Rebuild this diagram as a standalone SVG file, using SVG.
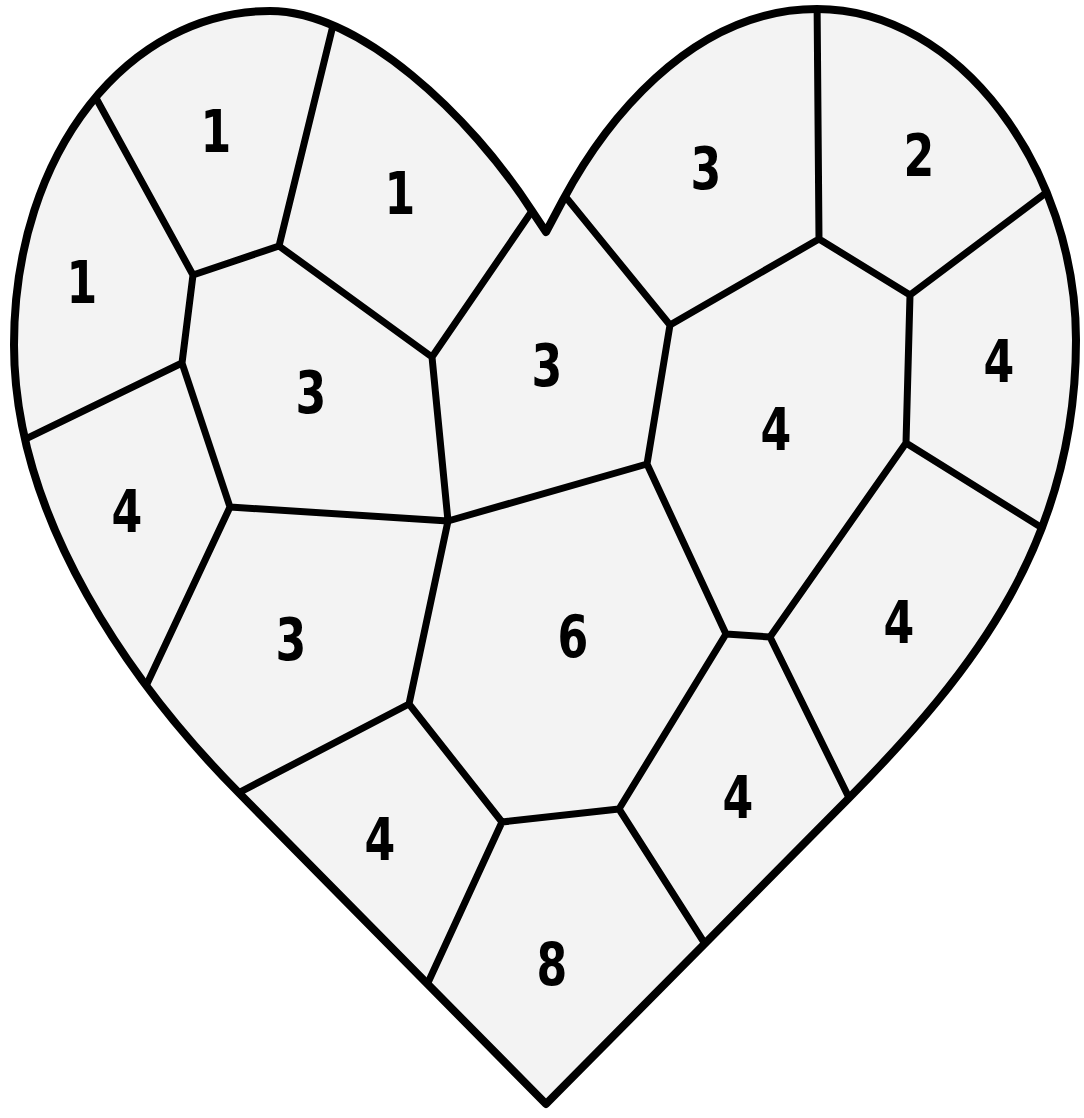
<svg xmlns="http://www.w3.org/2000/svg" width="1084" height="1118" viewBox="0 0 1084 1118">
<style>
.bg{fill:#ffffff}
.heart{fill:#f3f3f3}
.out{fill:none;stroke:#000;stroke-width:8;stroke-linejoin:round}
.in{fill:none;stroke:#000;stroke-width:7;stroke-linejoin:round;stroke-linecap:round}
.n{font-family:"DejaVu Sans","Liberation Sans",sans-serif;font-weight:bold;font-size:59px;text-anchor:middle;fill:#000}
</style>
<defs>
<path id="h" d="M546,1104 L239,793 C133.5,686.4 14,520 14,345 C14,150 130,11 270,11 C360,11 470,115 532,211 L546,232 L563,200 C600.6,129.6 687,9 817,9 C960,9 1076,170 1076,340 C1076,540 975.5,670 849,798 Z"/>
<clipPath id="c"><use href="#h"/></clipPath>
</defs>
<rect class="bg" x="0" y="0" width="1084" height="1118"/>
<use href="#h" class="heart"/>
<g id="lines" clip-path="url(#c)">
<path class="in" d="M85,78 L193,275 L279,246 L338,5 M279,246 L432,357 L545,192 M193,275 L182,363 L5,449 M182,363 L230,507 L448,521 L432,357 M230,507 L138,703 M448,521 L647,464 L670,325 L560,190 M670,325 L819,239 L817,-5 M819,239 L910,295 L1067,177 M910,295 L906,443 L1055,536 M906,443 L770,637 L856,812 M770,637 L726,634 L647,464 M726,634 L619,809 L714,958 M619,809 L502,822 L420,1000 M502,822 L409,704 L448,521 M409,704 L221,802"/>
</g>
<use href="#h" class="out"/>
<g id="labels">
<text class="n" transform="translate(216,152) scale(0.75,1)">1</text>
<text class="n" transform="translate(400,214) scale(0.75,1)">1</text>
<text class="n" transform="translate(82,303) scale(0.75,1)">1</text>
<text class="n" transform="translate(311,413) scale(0.75,1)">3</text>
<text class="n" transform="translate(547,386) scale(0.75,1)">3</text>
<text class="n" transform="translate(706,189) scale(0.75,1)">3</text>
<text class="n" transform="translate(919,176) scale(0.75,1)">2</text>
<text class="n" transform="translate(999,382) scale(0.75,1)">4</text>
<text class="n" transform="translate(776,450) scale(0.75,1)">4</text>
<text class="n" transform="translate(127,532) scale(0.75,1)">4</text>
<text class="n" transform="translate(291,660) scale(0.75,1)">3</text>
<text class="n" transform="translate(573,657) scale(0.75,1)">6</text>
<text class="n" transform="translate(899,643) scale(0.75,1)">4</text>
<text class="n" transform="translate(738,818) scale(0.75,1)">4</text>
<text class="n" transform="translate(380,860) scale(0.75,1)">4</text>
<text class="n" transform="translate(552,985) scale(0.75,1)">8</text>
</g>
</svg>
